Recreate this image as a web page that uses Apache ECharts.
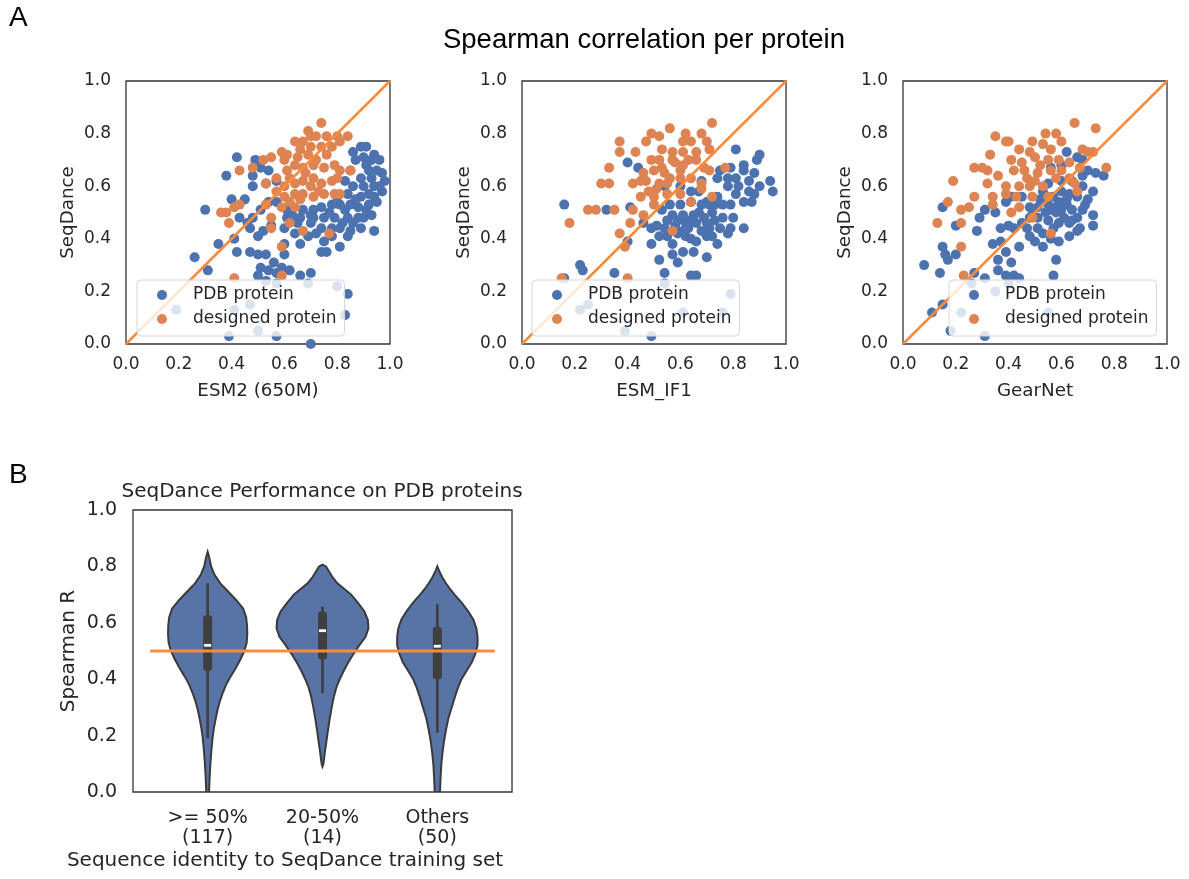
<!DOCTYPE html>
<html>
<head>
    <meta charset="utf-8" />
    <title>Spearman correlation per protein</title>
    <script src="https://cdn.jsdelivr.net/npm/echarts@6/dist/echarts.min.js"></script>
    <style>
        html, body { margin: 0; padding: 0; background: #fff; }
        #main { width: 1189px; height: 879px; }
    </style>
</head>
<body>
<div id="main"></div>
<script type="text/javascript">
    // ---- panel A data: [method score, SeqDance score] per protein ----
    var esm2Pdb = [[0.42,0.71],[0.38,0.64],[0.30,0.51],[0.26,0.33],[0.31,0.28],[0.35,0.38],[0.41,0.40],[0.42,0.35],[0.40,0.55],[0.45,0.55],[0.43,0.48],[0.48,0.64],[0.49,0.70],[0.51,0.67],[0.54,0.66],[0.48,0.60],[0.53,0.61],[0.57,0.62],[0.47,0.44],[0.50,0.41],[0.52,0.43],[0.55,0.45],[0.47,0.35],[0.50,0.34],[0.53,0.34],[0.56,0.31],[0.51,0.29],[0.54,0.28],[0.50,0.26],[0.57,0.27],[0.60,0.34],[0.60,0.38],[0.59,0.29],[0.62,0.28],[0.66,0.26],[0.70,0.27],[0.69,0.23],
        [0.89,0.75],[0.91,0.75],[0.94,0.72],[0.96,0.70],[0.98,0.62],[0.95,0.66],[0.91,0.68],[0.87,0.70],[0.85,0.66],[0.89,0.63],[0.93,0.63],[0.94,0.60],[0.90,0.60],[0.86,0.60],[0.84,0.57],[0.80,0.56],[0.89,0.56],[0.94,0.56],[0.95,0.54],[0.92,0.53],[0.88,0.52],[0.85,0.53],[0.81,0.53],[0.78,0.53],[0.74,0.52],[0.71,0.51],[0.67,0.51],[0.66,0.48],[0.71,0.48],[0.75,0.48],[0.79,0.48],[0.84,0.48],[0.86,0.46],[0.90,0.48],[0.93,0.49],[0.94,0.43],[0.89,0.44],[0.85,0.43],[0.81,0.44],[0.78,0.44],[0.74,0.44],[0.70,0.46],[0.65,0.46],[0.61,0.48],[0.60,0.44],[0.64,0.42],[0.66,0.38],[0.69,0.41],[0.72,0.42],[0.75,0.39],[0.78,0.41],[0.76,0.35],[0.74,0.35],[0.81,0.37],[0.84,0.41],[0.54,0.54],[0.57,0.54],[0.61,0.51],[0.51,0.51],[0.48,0.48],[0.46,0.46],
        [0.86,0.73],[0.92,0.66],[0.88,0.48],[0.97,0.58],[0.83,0.62],[0.93,0.70],[0.90,0.71],[0.97,0.65],[0.92,0.57],[0.87,0.55],[0.83,0.51],[0.77,0.50],[0.70,0.49],[0.96,0.60],[0.91,0.51],[0.82,0.46],[0.63,0.49],
        [0.19,0.13],[0.41,0.13],[0.47,0.15],[0.53,0.24],[0.57,0.23],[0.80,0.22],[0.84,0.19],[0.83,0.11],[0.39,0.03],[0.50,0.05],[0.57,0.03],[0.70,0.00]];
    var esm2Designed = [[0.74,0.84],[0.69,0.81],[0.76,0.79],[0.72,0.79],[0.80,0.79],[0.84,0.79],[0.64,0.77],[0.67,0.77],[0.70,0.75],[0.74,0.75],[0.78,0.75],[0.81,0.77],[0.76,0.72],[0.69,0.72],[0.65,0.71],[0.61,0.72],[0.60,0.70],[0.59,0.73],[0.55,0.71],[0.52,0.70],[0.48,0.67],[0.43,0.66],[0.53,0.61],[0.57,0.63],[0.61,0.66],[0.64,0.68],[0.67,0.67],[0.71,0.68],[0.75,0.67],[0.79,0.68],[0.81,0.66],[0.85,0.66],[0.60,0.60],[0.64,0.61],[0.67,0.62],[0.71,0.63],[0.74,0.61],[0.78,0.62],[0.80,0.63],[0.64,0.57],[0.67,0.57],[0.71,0.56],[0.75,0.57],[0.79,0.57],[0.81,0.57],[0.60,0.56],[0.59,0.52],[0.64,0.52],[0.53,0.53],[0.55,0.48],[0.43,0.53],[0.41,0.52],[0.38,0.50],[0.36,0.50],[0.39,0.46],[0.55,0.44],[0.62,0.46],[0.67,0.43],[0.77,0.42],[0.59,0.37],[0.41,0.25],[0.59,0.26],
        [0.70,0.79],[0.66,0.74],[0.72,0.70],[0.68,0.65],[0.62,0.63],[0.70,0.60],[0.66,0.55],[0.73,0.58],[0.57,0.58],[0.62,0.54]];

    var esmIf1Pdb = [[0.81,0.74],[0.90,0.72],[0.89,0.70],[0.84,0.68],[0.79,0.67],[0.75,0.66],[0.84,0.66],[0.81,0.63],[0.78,0.63],[0.74,0.63],[0.88,0.65],[0.94,0.62],[0.95,0.58],[0.90,0.60],[0.88,0.57],[0.84,0.54],[0.87,0.54],[0.81,0.57],[0.78,0.60],[0.79,0.53],[0.76,0.53],[0.73,0.53],[0.70,0.54],[0.68,0.53],[0.64,0.54],[0.60,0.53],[0.57,0.49],[0.61,0.49],[0.65,0.49],[0.69,0.48],[0.73,0.47],[0.76,0.48],[0.80,0.48],[0.84,0.44],[0.79,0.44],[0.75,0.44],[0.71,0.44],[0.66,0.46],[0.62,0.46],[0.59,0.47],[0.55,0.47],[0.51,0.45],[0.49,0.44],[0.52,0.41],[0.55,0.41],[0.59,0.42],[0.62,0.41],[0.66,0.39],[0.70,0.41],[0.74,0.38],[0.78,0.42],[0.61,0.35],[0.65,0.35],[0.70,0.33],[0.57,0.34],[0.59,0.31],[0.52,0.32],[0.49,0.38],[0.46,0.46],[0.40,0.39],[0.41,0.52],[0.40,0.69],[0.44,0.67],[0.16,0.53],[0.32,0.51],[0.22,0.30],[0.23,0.28],[0.35,0.27],[0.54,0.27],[0.64,0.26],[0.66,0.26],[0.16,0.25],[0.22,0.13],[0.25,0.15],[0.39,0.05],[0.49,0.03],[0.54,0.23],[0.61,0.12],[0.79,0.19],[0.76,0.12],[0.71,0.53],[0.74,0.56],[0.53,0.51],[0.56,0.53],[0.54,0.60],[0.60,0.60],[0.64,0.58],[0.67,0.58],[0.72,0.50],[0.63,0.44],[0.68,0.62],[0.86,0.62],
        [0.67,0.50],[0.64,0.47],[0.70,0.46],[0.58,0.45],[0.61,0.43],[0.68,0.43],[0.54,0.44],[0.57,0.38],[0.64,0.40],[0.72,0.41],[0.82,0.60],[0.86,0.58]];
    var esmIf1Designed = [[0.72,0.84],[0.56,0.82],[0.49,0.80],[0.52,0.79],[0.62,0.80],[0.68,0.80],[0.47,0.77],[0.37,0.77],[0.61,0.77],[0.64,0.77],[0.70,0.77],[0.71,0.74],[0.43,0.73],[0.53,0.74],[0.57,0.73],[0.61,0.73],[0.66,0.73],[0.37,0.73],[0.49,0.70],[0.33,0.67],[0.57,0.70],[0.66,0.70],[0.69,0.67],[0.53,0.67],[0.50,0.66],[0.46,0.65],[0.42,0.61],[0.47,0.62],[0.52,0.61],[0.56,0.63],[0.60,0.63],[0.64,0.63],[0.68,0.61],[0.71,0.66],[0.77,0.67],[0.30,0.61],[0.33,0.61],[0.45,0.56],[0.50,0.56],[0.55,0.57],[0.60,0.57],[0.64,0.54],[0.68,0.59],[0.72,0.56],[0.25,0.51],[0.28,0.51],[0.35,0.51],[0.42,0.51],[0.46,0.49],[0.41,0.46],[0.37,0.42],[0.18,0.46],[0.39,0.37],[0.57,0.43],[0.15,0.25],[0.40,0.25],[0.51,0.59],[0.54,0.65],[0.61,0.68],
        [0.58,0.69],[0.55,0.61],[0.48,0.58],[0.52,0.70],[0.63,0.70],[0.60,0.66],[0.45,0.62],[0.50,0.53]];

    var gearNetPdb = [[0.62,0.73],[0.66,0.71],[0.68,0.70],[0.60,0.68],[0.56,0.67],[0.70,0.66],[0.73,0.65],[0.76,0.64],[0.68,0.64],[0.64,0.62],[0.60,0.62],[0.55,0.61],[0.53,0.58],[0.60,0.58],[0.68,0.60],[0.72,0.58],[0.70,0.55],[0.66,0.56],[0.62,0.55],[0.59,0.54],[0.55,0.53],[0.51,0.52],[0.48,0.52],[0.45,0.56],[0.41,0.56],[0.39,0.54],[0.35,0.50],[0.31,0.51],[0.29,0.48],[0.56,0.51],[0.60,0.51],[0.64,0.51],[0.68,0.51],[0.72,0.49],[0.72,0.45],[0.67,0.44],[0.63,0.46],[0.59,0.46],[0.55,0.47],[0.51,0.48],[0.48,0.48],[0.45,0.46],[0.42,0.44],[0.40,0.45],[0.37,0.44],[0.53,0.42],[0.56,0.40],[0.59,0.39],[0.63,0.41],[0.66,0.43],[0.50,0.39],[0.48,0.41],[0.44,0.37],[0.39,0.35],[0.36,0.32],[0.41,0.31],[0.34,0.38],[0.37,0.39],[0.28,0.43],[0.20,0.45],[0.15,0.52],[0.15,0.37],[0.16,0.34],[0.20,0.34],[0.17,0.32],[0.08,0.30],[0.14,0.27],[0.27,0.27],[0.31,0.25],[0.36,0.28],[0.39,0.26],[0.42,0.26],[0.44,0.25],[0.57,0.26],[0.58,0.32],[0.26,0.23],[0.35,0.20],[0.40,0.23],[0.11,0.12],[0.15,0.15],[0.22,0.12],[0.18,0.05],[0.31,0.03],[0.55,0.12],[0.49,0.49],[0.53,0.37],[0.58,0.50],[0.62,0.53],[0.66,0.48],[0.52,0.55],[0.57,0.44],
        [0.58,0.52],[0.61,0.48],[0.54,0.50],[0.64,0.47],[0.57,0.56],[0.47,0.44],[0.51,0.44],[0.69,0.53],[0.63,0.57]];
    var gearNetDesigned = [[0.65,0.84],[0.73,0.82],[0.54,0.80],[0.58,0.80],[0.35,0.79],[0.39,0.77],[0.40,0.77],[0.60,0.77],[0.49,0.77],[0.53,0.76],[0.44,0.74],[0.48,0.73],[0.68,0.74],[0.70,0.73],[0.72,0.73],[0.33,0.72],[0.41,0.70],[0.50,0.71],[0.55,0.70],[0.59,0.70],[0.63,0.69],[0.67,0.67],[0.77,0.67],[0.27,0.67],[0.30,0.67],[0.32,0.66],[0.36,0.64],[0.42,0.66],[0.46,0.66],[0.51,0.65],[0.56,0.66],[0.60,0.66],[0.63,0.63],[0.19,0.62],[0.32,0.61],[0.39,0.60],[0.44,0.60],[0.48,0.60],[0.53,0.60],[0.65,0.61],[0.66,0.58],[0.27,0.56],[0.34,0.56],[0.39,0.57],[0.49,0.56],[0.55,0.56],[0.17,0.54],[0.22,0.51],[0.25,0.52],[0.34,0.53],[0.41,0.50],[0.44,0.52],[0.49,0.48],[0.22,0.46],[0.13,0.46],[0.56,0.42],[0.22,0.37],[0.23,0.26],
        [0.45,0.69],[0.52,0.68],[0.47,0.63],[0.58,0.63],[0.43,0.56],[0.50,0.62],[0.56,0.74]];

    var methodNames = ['ESM2 (650M)', 'ESM_IF1', 'GearNet'];
    var diagonal = [[0, 0], [1, 1]];

    // ---- panel B data: violin outlines (y, half width) and inner box stats ----
    var groupLabels = ['>= 50%\n(117)', '20-50%\n(14)', 'Others\n(50)'];
    var violinY = [
        [0.852, 0.83, 0.80, 0.77, 0.74, 0.71, 0.68, 0.65, 0.62, 0.59, 0.56, 0.53, 0.50, 0.47, 0.44, 0.41, 0.38, 0.35, 0.32, 0.29, 0.26, 0.23, 0.20, 0.15, 0.10, 0.05, 0.0],
        [0.806, 0.80, 0.78, 0.76, 0.74, 0.72, 0.70, 0.67, 0.64, 0.61, 0.58, 0.55, 0.52, 0.49, 0.46, 0.43, 0.40, 0.37, 0.34, 0.30, 0.26, 0.22, 0.18, 0.14, 0.10, 0.09],
        [0.80, 0.78, 0.76, 0.74, 0.72, 0.70, 0.67, 0.64, 0.61, 0.58, 0.55, 0.52, 0.49, 0.46, 0.43, 0.40, 0.37, 0.34, 0.30, 0.26, 0.22, 0.18, 0.14, 0.10, 0.05, 0.0]
    ];
    var violinHalf = [
        [0, 0.015, 0.03, 0.06, 0.11, 0.18, 0.25, 0.31, 0.335, 0.343, 0.345, 0.34, 0.32, 0.285, 0.245, 0.20, 0.16, 0.13, 0.105, 0.085, 0.07, 0.056, 0.045, 0.033, 0.024, 0.017, 0.012],
        [0, 0.03, 0.06, 0.09, 0.13, 0.19, 0.25, 0.31, 0.365, 0.395, 0.40, 0.375, 0.32, 0.27, 0.225, 0.185, 0.15, 0.12, 0.10, 0.08, 0.063, 0.048, 0.034, 0.02, 0.008, 0],
        [0, 0.02, 0.045, 0.075, 0.11, 0.15, 0.215, 0.27, 0.315, 0.34, 0.35, 0.35, 0.33, 0.30, 0.255, 0.21, 0.18, 0.155, 0.125, 0.095, 0.075, 0.058, 0.045, 0.035, 0.028, 0.023]
    ];
    var whiskerLow = [0.19, 0.35, 0.21];
    var quart1 = [0.43, 0.47, 0.40];
    var median = [0.52, 0.572, 0.517];
    var quart3 = [0.627, 0.64, 0.586];
    var whiskerHigh = [0.74, 0.657, 0.666];
    var baseline = [[-0.5, 0.5], [2.5, 0.5]];

    var textColor = '#262626';
    var fontName = 'DejaVu Sans';
    var blue = '#4c72b0', orange = '#dd8452', lineOrange = '#f98b3a';

    var chart = echarts.init(document.getElementById('main'), null, {renderer: 'canvas'});

    var gridLeft = [126, 522, 903];
    var legendLeft = [137, 532, 949];
    var pdbSets = [esm2Pdb, esmIf1Pdb, gearNetPdb];
    var designedSets = [esm2Designed, esmIf1Designed, gearNetDesigned];

    var grids = [], xAxes = [], yAxes = [], series = [], legends = [];

    function fmt(v) { return v.toFixed(1); }

    for (var i = 0; i < 3; i++) {
        grids.push({left: gridLeft[i], top: 81, width: 264, height: 263, show: true,
            borderColor: '#333', borderWidth: 1.3, backgroundColor: 'transparent'});
        xAxes.push({
            gridIndex: i, type: 'value', min: 0, max: 1, interval: 0.2,
            axisLine: {show: false}, axisTick: {show: false}, splitLine: {show: false},
            axisLabel: {formatter: fmt, color: textColor, fontSize: 17, fontFamily: fontName, margin: 12},
            name: methodNames[i], nameLocation: 'middle', nameGap: 38,
            nameTextStyle: {color: textColor, fontSize: 18.3, fontFamily: fontName}
        });
        yAxes.push({
            gridIndex: i, type: 'value', min: 0, max: 1, interval: 0.2,
            axisLine: {show: false}, axisTick: {show: false}, splitLine: {show: false},
            axisLabel: {formatter: fmt, color: textColor, fontSize: 17, fontFamily: fontName, margin: 15},
            name: 'SeqDance', nameLocation: 'middle', nameGap: 49,
            nameTextStyle: {color: textColor, fontSize: 18.3, fontFamily: fontName}
        });
        series.push({
            name: 'PDB protein', type: 'scatter', xAxisIndex: i, yAxisIndex: i,
            data: pdbSets[i], symbolSize: 10, itemStyle: {color: blue, opacity: 1}, z: 2, silent: true
        });
        series.push({
            name: 'designed protein', type: 'scatter', xAxisIndex: i, yAxisIndex: i,
            data: designedSets[i], symbolSize: 10, itemStyle: {color: orange, opacity: 1}, z: 2, silent: true
        });
        series.push({
            type: 'line', xAxisIndex: i, yAxisIndex: i, data: diagonal, symbol: 'none',
            lineStyle: {color: lineOrange, width: 2.5}, z: 3, silent: true, clip: true
        });
        legends.push({
            left: legendLeft[i], top: 280, orient: 'vertical',
            data: ['PDB protein', 'designed protein'], icon: 'circle',
            itemWidth: 10, itemHeight: 10, itemGap: 4, padding: [5, 8, 7, 20],
            backgroundColor: 'rgba(255,255,255,0.8)', borderColor: '#d6d6d6', borderWidth: 1, borderRadius: 4,
            selectedMode: false, z: 6,
            textStyle: {color: textColor, fontSize: 17, fontFamily: fontName, lineHeight: 20, padding: [0, 0, 0, 21]}
        });
    }

    // panel B grid
    grids.push({left: 133, top: 510, width: 379, height: 282, show: true,
        borderColor: '#333', borderWidth: 1.3, backgroundColor: 'transparent'});
    xAxes.push({
        gridIndex: 3, type: 'value', min: -0.65, max: 2.65,
        axisLine: {show: false}, axisTick: {show: false}, splitLine: {show: false},
        axisLabel: {customValues: [0, 1, 2], formatter: function (v) { return groupLabels[Math.round(v)]; },
            color: textColor, fontSize: 19, fontFamily: fontName, lineHeight: 20, margin: 16},
        name: 'Sequence identity to SeqDance training set', nameLocation: 'middle', nameGap: 59,
        nameTextStyle: {color: textColor, fontSize: 20, fontFamily: fontName, padding: [0, 75, 0, 0]}
    });
    yAxes.push({
        gridIndex: 3, type: 'value', min: 0, max: 1, interval: 0.2,
        axisLine: {show: false}, axisTick: {show: false}, splitLine: {show: false},
        axisLabel: {formatter: fmt, color: textColor, fontSize: 19, fontFamily: fontName, margin: 16},
        name: 'Spearman R', nameLocation: 'middle', nameGap: 54,
        nameTextStyle: {color: textColor, fontSize: 20, fontFamily: fontName}
    });

    // violin bodies
    series.push({
        type: 'custom', xAxisIndex: 3, yAxisIndex: 3, clip: true, z: 2, silent: true,
        data: groupLabels.map(function (g, k) { return [k, 0]; }),
        encode: {x: 0, y: 1},
        renderItem: function (params, api) {
            var k = api.value(0);
            var ys = violinY[k], hs = violinHalf[k];
            var pts = [];
            for (var j = 0; j < ys.length; j++) pts.push(api.coord([k + hs[j], ys[j]]));
            for (var j2 = ys.length - 1; j2 >= 0; j2--) pts.push(api.coord([k - hs[j2], ys[j2]]));
            return {type: 'polygon', shape: {points: pts},
                style: {fill: '#5874a6', stroke: '#3a3a3a', lineWidth: 2}};
        }
    });

    // inner box plots
    series.push({
        type: 'custom', xAxisIndex: 3, yAxisIndex: 3, clip: true, z: 3, silent: true,
        data: groupLabels.map(function (g, k) { return [k, whiskerLow[k], quart1[k], median[k], quart3[k], whiskerHigh[k]]; }),
        encode: {x: 0, y: [1, 2, 3, 4, 5]},
        renderItem: function (params, api) {
            var k = api.value(0);
            var lo = api.coord([k, api.value(1)]);
            var q1 = api.coord([k, api.value(2)]);
            var md = api.coord([k, api.value(3)]);
            var q3 = api.coord([k, api.value(4)]);
            var hi = api.coord([k, api.value(5)]);
            return {type: 'group', children: [
                {type: 'line', shape: {x1: lo[0], y1: lo[1], x2: hi[0], y2: hi[1]},
                    style: {stroke: '#3f3f3f', lineWidth: 2.7}},
                {type: 'rect', shape: {x: q3[0] - 4.5, y: q3[1], width: 9, height: q1[1] - q3[1], r: 3},
                    style: {fill: '#3f3f3f'}},
                {type: 'rect', shape: {x: md[0] - 3.5, y: md[1] - 1.4, width: 7, height: 2.8},
                    style: {fill: '#ffffff'}}
            ]};
        }
    });

    series.push({
        type: 'line', xAxisIndex: 3, yAxisIndex: 3, data: baseline, symbol: 'none',
        lineStyle: {color: lineOrange, width: 3}, z: 4, silent: true
    });

    var option = {
        animation: false,
        backgroundColor: '#fff',
        title: [
            {text: 'Spearman correlation per protein', left: 644, top: 26, textAlign: 'center', padding: 0,
                textStyle: {fontFamily: 'Liberation Sans', fontSize: 27.5, fontWeight: 'normal', color: '#000'}},
            {text: 'SeqDance Performance on PDB proteins', left: 322, top: 482, textAlign: 'center', padding: 0,
                textStyle: {fontFamily: fontName, fontSize: 20, fontWeight: 'normal', color: textColor}}
        ],
        graphic: [
            {type: 'text', left: 9, top: 4, style: {text: 'A', fontFamily: 'Liberation Sans', fontSize: 28, fill: '#000'}},
            {type: 'text', left: 9, top: 461, style: {text: 'B', fontFamily: 'Liberation Sans', fontSize: 28, fill: '#000'}}
        ],
        legend: legends,
        grid: grids,
        xAxis: xAxes,
        yAxis: yAxes,
        series: series
    };

    chart.setOption(option);
</script>
</body>
</html>
